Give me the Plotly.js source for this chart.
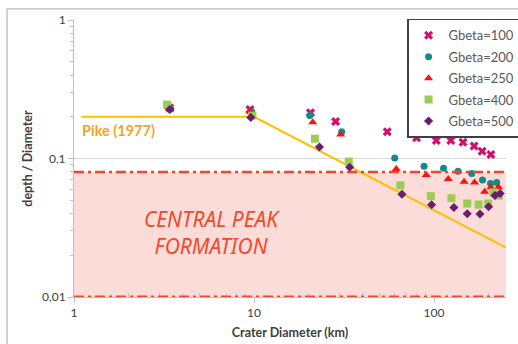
<!DOCTYPE html>
<html>
<head>
<meta charset="utf-8">
<script src="https://cdn.plot.ly/plotly-3.0.1.min.js"></script>
<style>
  html, body { margin: 0; padding: 0; background: #fff; }
  #chart { width: 518px; height: 344px; }
</style>
</head>
<body>
<div id="chart"></div>
<script>
// ---- data ----
const seriesNames = ['Gbeta=100', 'Gbeta=200', 'Gbeta=250', 'Gbeta=400', 'Gbeta=500'];

const d100 = [3.4, 9.5, 20.6, 28.4, 55, 80, 103, 124, 145, 167, 185, 207];
const r100 = [0.232, 0.226, 0.214, 0.185, 0.156, 0.141, 0.135, 0.135, 0.131, 0.123, 0.113, 0.107];

const d200 = [3.45, 9.7, 20.4, 30.7, 60.5, 88, 113, 136, 162, 186, 206, 223];
const r200 = [0.228, 0.218, 0.204, 0.156, 0.101, 0.088, 0.085, 0.081, 0.078, 0.070, 0.066, 0.067];

const d250 = [3.35, 9.5, 21.2, 30.3, 61.7, 90.6, 120, 147, 168, 191, 207, 228];
const r250 = [0.235, 0.218, 0.183, 0.149, 0.084, 0.076, 0.071, 0.068, 0.067, 0.0575, 0.062, 0.062];

const d400 = [3.29, 9.8, 21.8, 33.6, 65, 96, 125, 153, 177, 200, 214, 229];
const r400 = [0.245, 0.204, 0.139, 0.095, 0.064, 0.0535, 0.0517, 0.0473, 0.0465, 0.0473, 0.057, 0.054];

const d500 = [3.4, 9.6, 23.1, 34, 66.4, 97, 129, 153, 180, 201, 218, 233];
const r500 = [0.226, 0.198, 0.121, 0.0865, 0.0552, 0.0463, 0.0443, 0.0399, 0.0397, 0.0448, 0.054, 0.0559];

// Pike (1977) reference relation
const pikeD = [1.1, 10, 250];
const pikeRatio = [0.2, 0.2, 0.0228];

// central peak formation zone
const peakZone = [0.01, 0.08];

const xTickVals = [1, 10, 100];
const xTickText = ['1', '10', '100'];
const yTickVals = [0.01, 0.1, 1];
const yTickText = ['0,01', '0,1', '1'];

// ---- styling ----
const seriesX = [d100, d200, d250, d400, d500];
const seriesY = [r100, r200, r250, r400, r500];
const markers = [
  {symbol: 'x', color: '#d0106e', size: 8},
  {symbol: 'circle', color: '#16898b', size: 7},
  {symbol: 'triangle-up', color: '#ff1010', size: 8},
  {symbol: 'square', color: '#9acd54', size: 8},
  {symbol: 'diamond', color: '#6e1a6e', size: 7}
];

const traces = [];
traces.push({
  x: pikeD, y: pikeRatio, type: 'scatter', mode: 'lines',
  line: {color: '#ffbe00', width: 2},
  showlegend: false, hoverinfo: 'skip'
});
seriesNames.forEach((n, i) => {
  traces.push({
    x: seriesX[i], y: seriesY[i], type: 'scatter', mode: 'markers', name: n,
    legendgroup: 'g' + i,
    marker: {symbol: markers[i].symbol, color: markers[i].color, size: markers[i].size,
             line: {width: 0}}
  });
});

const minorX = [];
[1, 10, 100].forEach(b => { for (let k = 2; k <= 9; k++) if (b * k <= 260) minorX.push(b * k); });
const minorY = [];
[0.01, 0.1].forEach(b => { for (let k = 2; k <= 9; k++) minorY.push(b * k); });

const red = '#f2452b';
const layout = {
  width: 518, height: 344,
  margin: {l: 74, r: 12, t: 20, b: 47, autoexpand: false},
  paper_bgcolor: '#ffffff', plot_bgcolor: '#ffffff',
  font: {family: 'Lato, "Open Sans", sans-serif', color: '#404040', size: 12},
  xaxis: {
    type: 'log', range: [0, 2.4],
    tickvals: xTickVals, ticktext: xTickText,
    showgrid: false, zeroline: false,
    showline: true, linecolor: '#bfbfbf', linewidth: 1,
    ticks: 'outside', ticklen: 5, tickcolor: '#bfbfbf',
    minor: {tickvals: minorX, ticks: 'inside', ticklen: 4, tickcolor: '#bfbfbf', showgrid: false},
    tickfont: {size: 12, color: '#404040'},
    title: {text: '<b>Crater Diameter (km)</b>', font: {size: 12.5, color: '#404040'}, standoff: 8}
  },
  yaxis: {
    type: 'log', range: [-2, 0],
    tickvals: yTickVals, ticktext: yTickText,
    showgrid: true, gridcolor: '#d9d9d9', gridwidth: 1, zeroline: false,
    showline: true, linecolor: '#bfbfbf', linewidth: 1,
    ticks: 'outside', ticklen: 5, tickcolor: '#bfbfbf',
    minor: {tickvals: minorY, ticks: 'outside', ticklen: 3, tickcolor: '#bfbfbf', showgrid: false},
    tickfont: {size: 12, color: '#404040'},
    title: {text: '<b>depth / Diameter</b>', font: {size: 12.5, color: '#404040'}, standoff: 6}
  },
  shapes: [
    {type: 'rect', xref: 'paper', yref: 'y', x0: 0, x1: 1, y0: peakZone[0], y1: peakZone[1],
     fillcolor: '#fbdcd8', line: {width: 0}, layer: 'below'},
    {type: 'line', xref: 'paper', yref: 'y', x0: 0, x1: 1, y0: peakZone[1], y1: peakZone[1],
     line: {color: red, width: 2.5, dash: '10px,4px,3px,4px'}},
    {type: 'line', xref: 'paper', yref: 'y', x0: 0, x1: 1, y0: peakZone[0], y1: peakZone[0],
     line: {color: red, width: 3, dash: '10px,4px,3px,4px'}},
    {type: 'rect', xref: 'paper', yref: 'paper', x0: -0.155, x1: 1.06, y0: -0.25, y1: 1.04,
     line: {color: '#a6a6a6', width: 1}, fillcolor: 'rgba(0,0,0,0)'}
  ],
  annotations: [
    {xref: 'paper', yref: 'paper', x: 0.014, y: 0.6, xanchor: 'left', yanchor: 'middle',
     text: '<b>Pike (1977)</b>', showarrow: false,
     font: {family: 'Lato, "Open Sans", sans-serif', size: 14.5, color: '#f5a31e'}},
    {xref: 'paper', yref: 'paper', x: 0.32, y: 0.232, xanchor: 'center', yanchor: 'middle',
     text: '<i>CENTRAL PEAK<br>FORMATION</i>', showarrow: false, align: 'center',
     font: {family: '"Noto Sans", "DejaVu Sans", sans-serif', size: 21, color: '#f04a2c'}}
  ],
  legend: {
    x: 0.771, y: 1.004, xanchor: 'left', yanchor: 'top',
    bgcolor: '#ffffff', bordercolor: '#404040', borderwidth: 1.5,
    font: {size: 13, color: '#595959'},
    tracegroupgap: 1.5,
    entrywidth: 64
  },
  showlegend: true
};

Plotly.newPlot('chart', traces, layout, {displayModeBar: false, staticPlot: true});
</script>
</body>
</html>
